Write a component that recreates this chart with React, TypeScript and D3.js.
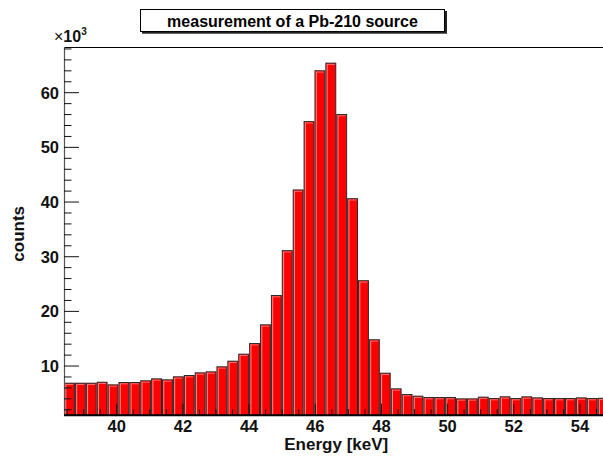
import React from "react";
import * as d3 from "d3";

// histogram: 50 bins, counts in units of 10^3
const xStart = 38.407;
const binWidth = 0.3291;
const counts = [
  6.95, 6.95, 6.95, 7.13, 6.65, 7.08, 7.08, 7.39, 7.75, 7.57,
  8.12, 8.36, 8.85, 9.03, 9.95, 10.98, 12.26, 14.21, 17.63, 23.0,
  31.2, 42.3, 54.8, 64.1, 65.5, 56.1, 40.7, 25.7, 14.9, 8.78,
  5.92, 4.88, 4.58, 4.34, 4.34, 4.34, 4.09, 4.09, 4.4, 4.15,
  4.46, 4.15, 4.46, 4.27, 4.15, 4.15, 4.15, 4.27, 4.15, 4.2,
];
const yMin = 1.1;
const yMax = 68.36;
const yMajorTicks = [10, 20, 30, 40, 50, 60];
const xMajorTicks = [40, 42, 44, 46, 48, 50, 52, 54];
const titleText = "measurement of a Pb-210 source";
const xTitle = "Energy [keV]";
const yTitle = "counts";

const W = 603;
const H = 457;
const L = 64;
const R = 608.5;
const T = 47;
const B = 414.7;
const FONT = "'Liberation Sans', Arial, Helvetica, sans-serif";

export default function App() {
  const xMax = xStart + counts.length * binWidth;
  const x = d3.scaleLinear().domain([xStart, xMax]).range([L, R]);
  const y = d3.scaleLinear().domain([yMin, yMax]).range([B, T]);

  const yMinor = d3.range(2, 69, 2).filter((v) => v % 10 !== 0);
  const xMinor = d3.range(38.5, 55, 0.5).filter((v) => v % 2 !== 0);

  return (
    <svg
      width={W}
      height={H}
      style={{ position: "absolute", left: 0, top: 0, background: "#fff", overflow: "hidden" }}
    >
      <rect x={0} y={0} width={W} height={H} fill="#fff" />
      {/* bars */}
      {counts.map((v, i) => {
        const x0 = x(xStart + i * binWidth);
        const x1 = x(xStart + (i + 1) * binWidth);
        const yt = y(v);
        return (
          <g key={i}>
            <rect x={x0 + 0.5} y={yt + 0.5} width={x1 - x0 - 1} height={B - yt} fill="#ff0000" stroke="#2a2a2a" strokeWidth={1} />
            <line x1={x0 + 1.8} x2={x0 + 1.8} y1={yt + 1.5} y2={B} stroke="#ff8a8a" strokeWidth={1} />
            <line x1={x0 + 1.5} x2={x1 - 1.5} y1={yt + 1.8} y2={yt + 1.8} stroke="#ff8a8a" strokeWidth={0.8} />
          </g>
        );
      })}
      {/* frame top */}
      <line x1={L} x2={W} y1={T + 0.5} y2={T + 0.5} stroke="#000" strokeWidth={1} />
      {/* y axis */}
      <line x1={L + 0.5} x2={L + 0.5} y1={T} y2={B} stroke="#555" strokeWidth={1.2} />
      {yMajorTicks.map((t) => (
        <g key={"ym" + t}>
          <line x1={L} x2={L + 15} y1={y(t)} y2={y(t)} stroke="#111" strokeWidth={1} />
          <text x={59} y={y(t)} dy="0.36em" textAnchor="end" fontFamily={FONT} fontWeight="bold" fontSize={16.5} fill="#111">
            {t}
          </text>
        </g>
      ))}
      {yMinor.map((t) => (
        <line key={"yn" + t} x1={L} x2={L + 7.5} y1={y(t)} y2={y(t)} stroke="#111" strokeWidth={1} />
      ))}
      {/* x axis */}
      {xMajorTicks.map((t) => (
        <g key={"xm" + t}>
          <line x1={x(t)} x2={x(t)} y1={B} y2={B - 11} stroke="#111" strokeWidth={1} />
          <text x={x(t)} y={432} textAnchor="middle" fontFamily={FONT} fontWeight="bold" fontSize={16.5} fill="#111">
            {t}
          </text>
        </g>
      ))}
      {xMinor.map((t) => (
        <line key={"xn" + t} x1={x(t)} x2={x(t)} y1={B} y2={B - 5.5} stroke="#111" strokeWidth={1} />
      ))}
      <line x1={L} x2={W} y1={B + 0.5} y2={B + 0.5} stroke="#000" strokeWidth={2} />
      {/* axis titles */}
      <text x={(L + R) / 2} y={450} textAnchor="middle" fontFamily={FONT} fontWeight="bold" fontSize={17} fill="#111">
        {xTitle}
      </text>
      <text
        transform={`translate(24, ${(T + B) / 2 + 3}) rotate(-90)`}
        textAnchor="middle"
        fontFamily={FONT}
        fontWeight="bold"
        fontSize={17}
        fill="#111"
      >
        {yTitle}
      </text>
      {/* exponent */}
      <text x={54} y={42} fontFamily={FONT} fontSize={16} fill="#111">
        <tspan>×</tspan>
        <tspan fontWeight="bold">10</tspan>
        <tspan fontWeight="bold" fontSize={10} dy={-7}>3</tspan>
      </text>
      {/* title box */}
      <rect x={142} y={11} width={305} height={22.7} fill="#222" />
      <rect x={140.5} y={9.5} width={304} height={22} fill="#fff" stroke="#000" strokeWidth={1} />
      <text x={292.5} y={26.5} textAnchor="middle" fontFamily={FONT} fontWeight="bold" fontSize={16} fill="#000">
        {titleText}
      </text>
    </svg>
  );
}
